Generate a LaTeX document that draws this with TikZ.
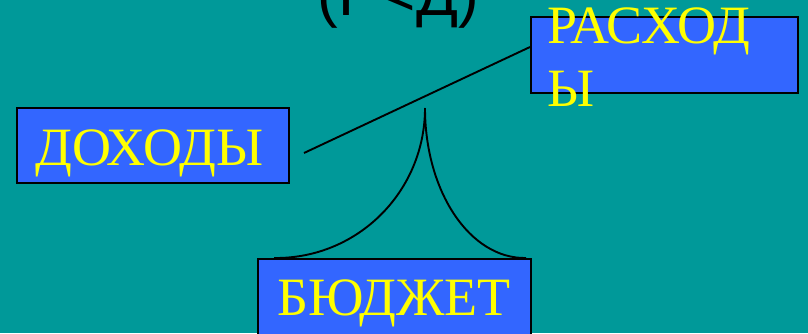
\documentclass[tikz,border=0pt]{standalone}
\usepackage{fontspec}
\setmainfont{Liberation Serif}
\newfontfamily\titlefont{Liberation Sans}
\definecolor{bg}{HTML}{009999}
\definecolor{boxblue}{HTML}{3366FF}
\definecolor{txtyellow}{HTML}{FFFF00}
\tikzset{
  boxnode/.style={draw=black, line width=2pt, fill=boxblue, rectangle, inner sep=0pt},
  boxtext/.style={text=txtyellow, inner sep=0pt, font=\fontsize{54}{63}\selectfont, align=left},
  conn/.style={draw=black, line width=1.9pt},
}
\begin{document}
\begin{tikzpicture}[x=1pt,y=-1pt]
  \useasboundingbox (0,0) rectangle (808,333);
  \fill[bg] (0,0) rectangle (808,333);
  \clip (0,0) rectangle (808,333);
  % title (cut at the top)
  \node[anchor=base east, inner sep=0pt, text=black, font=\titlefont\fontsize{62}{62}\selectfont] (title) at (479,15) {(Р<Д)};
  % boxes
  \node[boxnode, minimum width=272pt, minimum height=75pt] (dohody) at (153,145.5) {};
  \node[boxnode, minimum width=267pt, minimum height=76pt] (rashody) at (664.5,55) {};
  \node[boxnode, minimum width=273pt, minimum height=90pt] (budget) at (394.5,304) {};
  % texts
  \node[boxtext, anchor=base west] (tdohody) at (35,165) {ДОХОДЫ};
  \node[boxtext, anchor=base west] (trashody) at (547,106) {РАСХОД\\Ы};
  \node[boxtext, anchor=base west] (tbudget) at (277,315) {БЮДЖЕТ};
  % beam of the balance
  \coordinate (beamend) at (304,153);
  \draw[conn] (beamend) -- ([yshift=8pt]rashody.west);
  % stand of the balance
  \coordinate (apex) at (425,108);
  \coordinate (footl) at ([xshift=17pt]budget.north west);
  \coordinate (footr) at ([xshift=-6pt]budget.north east);
  \draw[conn] (apex) .. controls (425,191.4) and (357.8,259) .. (footl);
  \draw[conn] (apex) .. controls (425,191.4) and (469.8,259) .. (footr);
\end{tikzpicture}
\end{document}
